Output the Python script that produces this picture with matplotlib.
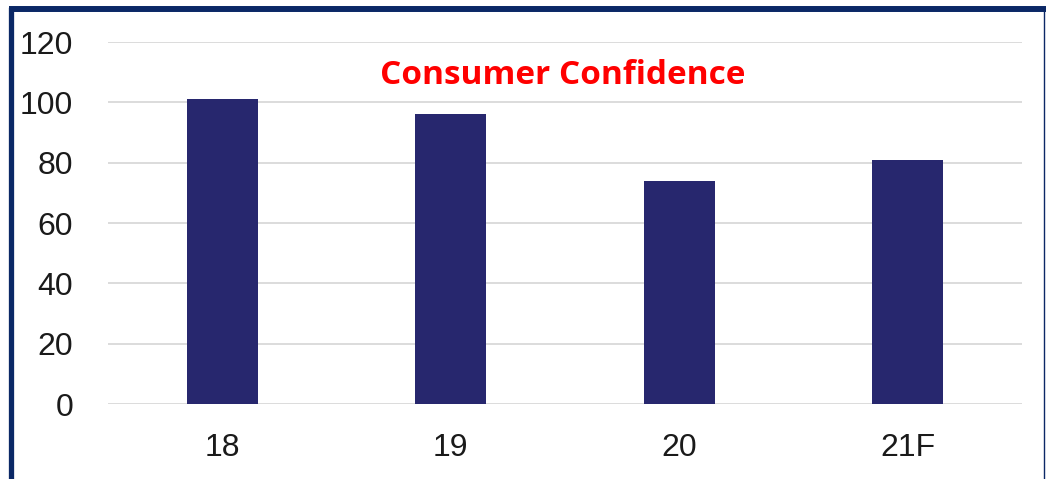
#!/usr/bin/env python3
import matplotlib.pyplot as plt
from matplotlib.lines import Line2D

# Data
categories = ['18', '19', '20', '21F']
values = [101, 96, 74, 81]
y_ticks = [0, 20, 40, 60, 80, 100, 120]

bar_color = '#27276E'
frame_color = '#0B2866'
grid_color = '#D9D9D9'
tick_font = ['Liberation Sans Narrow', 'Liberation Sans', 'DejaVu Sans']

W, H = 1046, 479
fig = plt.figure(figsize=(W / 100, H / 100), dpi=100)
ax = fig.add_axes([108 / W, 1 - 404 / H, 914 / W, 362 / H])

index = range(len(categories))
ax.bar(index, values, width=0.31, color=bar_color, zorder=3)

ax.set_xlim(-0.5, len(categories) - 0.5)
ax.set_ylim(0, 120)
ax.set_yticks(y_ticks)
ax.set_xticks(list(index))
ax.set_xticklabels(categories)
for lab in ax.get_xticklabels() + ax.get_yticklabels():
    lab.set_family(tick_font)
    lab.set_fontsize(23)
    lab.set_color('#1a1a1a')
ax.tick_params(axis='y', length=0, pad=25)
ax.tick_params(axis='x', length=0, pad=21)

# Gridlines
ax.grid(axis='y', color=grid_color, linewidth=1.3, zorder=0)
ax.set_axisbelow(True)
for s in ax.spines.values():
    s.set_visible(False)

# Title inside the plot
ax.text(0.497, 0.908, 'Consumer Confidence', transform=ax.transAxes,
        ha='center', va='center', fontsize=24, fontweight='bold',
        color='#FF0000', family=['Open Sans', 'DejaVu Sans'])

# Frame around the figure
fig.add_artist(Line2D([10.5 / W, 10.5 / W], [0, 1 - 10 / H], transform=fig.transFigure,
                      color=frame_color, linewidth=3.8))
fig.add_artist(Line2D([8.5 / W, 1], [1 - 9 / H, 1 - 9 / H], transform=fig.transFigure,
                      color=frame_color, linewidth=4.3, solid_capstyle='butt'))
fig.add_artist(Line2D([1043.5 / W, 1043.5 / W], [0, 1 - 9 / H], transform=fig.transFigure,
                      color=frame_color, linewidth=1.0))

fig.savefig('out.png', dpi=100, facecolor='white')
